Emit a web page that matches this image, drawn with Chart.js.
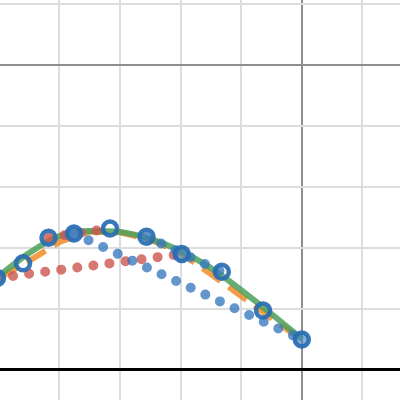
<!DOCTYPE html>
<html><head><meta charset="utf-8">
<script src="https://cdn.jsdelivr.net/npm/chart.js@4/dist/chart.umd.min.js"></script>
<style>html,body{margin:0;padding:0;background:#fff;}canvas{display:block;}</style>
</head><body>
<canvas id="c" width="400" height="400"></canvas>
<script>
// Noisy samples (open circles)
const markerX = [-5.03, -4.60, -4.18, -3.76, -3.165, -2.563, -1.98, -1.32, -0.64, 0.0];
const markerY = [1.508, 1.749, 2.169, 2.238, 2.320, 2.184, 1.902, 1.610, 0.975, 0.500];
// Samples that appear with a filled face
const filledIdx = [0, 3, 6, 9];
// Smooth curves sampled on a common grid
const curveX  = [-5.0, -4.5, -4.0, -3.5, -3.0, -2.5, -2.0, -1.5, -1.0, -0.5, 0.0];
const greenY  = [1.541, 1.918, 2.197, 2.279, 2.262, 2.148, 1.951, 1.672, 1.311, 0.918, 0.508];
const orangeY = [1.508, 1.787, 2.098, 2.270, 2.258, 2.140, 1.918, 1.574, 1.213, 0.852, 0.492];
// Dotted chords between samples (index pairs)
const redPairs  = [[0, 6], [2, 4]];
const bluePairs = [[3, 9], [5, 7]];
// Axis ranges / grid
const xRange = [-4.98, 1.62];
const yRange = [-0.492, 6.066];

const pts = (xs, ys) => xs.map((x, i) => ({x: x, y: ys[i]}));
const chord = pr => pr.map(i => ({x: markerX[i], y: markerY[i]}));

const datasets = [];
datasets.push({
  label: 'samples', data: pts(markerX, markerY), showLine: false,
  pointRadius: 7, pointBorderWidth: 4.5, pointHoverRadius: 7,
  pointBorderColor: 'rgba(40,108,178,0.92)',
  pointBackgroundColor: markerX.map((_, i) => filledIdx.includes(i) ? 'rgba(70,130,195,0.65)' : 'rgba(0,0,0,0)'),
  clip: false
});
bluePairs.forEach(pr => datasets.push({
  data: chord(pr), borderColor: 'rgba(55,120,190,0.78)', borderWidth: 10,
  borderDash: [0, 16.1], borderCapStyle: 'round', pointRadius: 0, tension: 0
}));
redPairs.forEach(pr => datasets.push({
  data: chord(pr), borderColor: 'rgba(205,85,78,0.8)', borderWidth: 10,
  borderDash: [0, 16.2], borderCapStyle: 'round', pointRadius: 0, tension: 0
}));
datasets.push({
  label: 'true', data: pts(curveX, greenY), borderColor: 'rgba(76,160,92,0.85)',
  borderWidth: 6, pointRadius: 0, cubicInterpolationMode: 'monotone'
});
datasets.push({
  label: 'fit', data: pts(curveX, orangeY), borderColor: 'rgba(242,140,40,0.85)',
  borderWidth: 6, borderDash: [22, 10], pointRadius: 0, tension: 0
});

const gridCol = (special) => (ctx) => {
  const v = ctx.tick ? ctx.tick.value : null;
  if (v !== null && special[v] !== undefined) return special[v][0];
  return '#dddddd';
};
const gridW = (special) => (ctx) => {
  const v = ctx.tick ? ctx.tick.value : null;
  if (v !== null && special[v] !== undefined) return special[v][1];
  return 2;
};
const xSpecial = {0: ['#8e8e8e', 2]};
const ySpecial = {0: ['#000000', 3], 5: ['#8e8e8e', 2]};

new Chart(document.getElementById('c'), {
  type: 'line',
  data: {datasets: datasets},
  options: {
    responsive: false, animation: false, parsing: true,
    layout: {padding: 0, autoPadding: false},
    plugins: {legend: {display: false}, tooltip: {enabled: false}},
    scales: {
      x: {type: 'linear', min: xRange[0], max: xRange[1],
          ticks: {display: false, stepSize: 1, includeBounds: false, padding: 0},
          grid: {drawTicks: false, tickLength: 0, color: gridCol(xSpecial), lineWidth: gridW(xSpecial)},
          border: {display: false}},
      y: {type: 'linear', min: yRange[0], max: yRange[1],
          ticks: {display: false, stepSize: 1, includeBounds: false, padding: 0},
          grid: {drawTicks: false, tickLength: 0, color: gridCol(ySpecial), lineWidth: gridW(ySpecial)},
          border: {display: false}}
    }
  }
});
</script>
</body></html>
